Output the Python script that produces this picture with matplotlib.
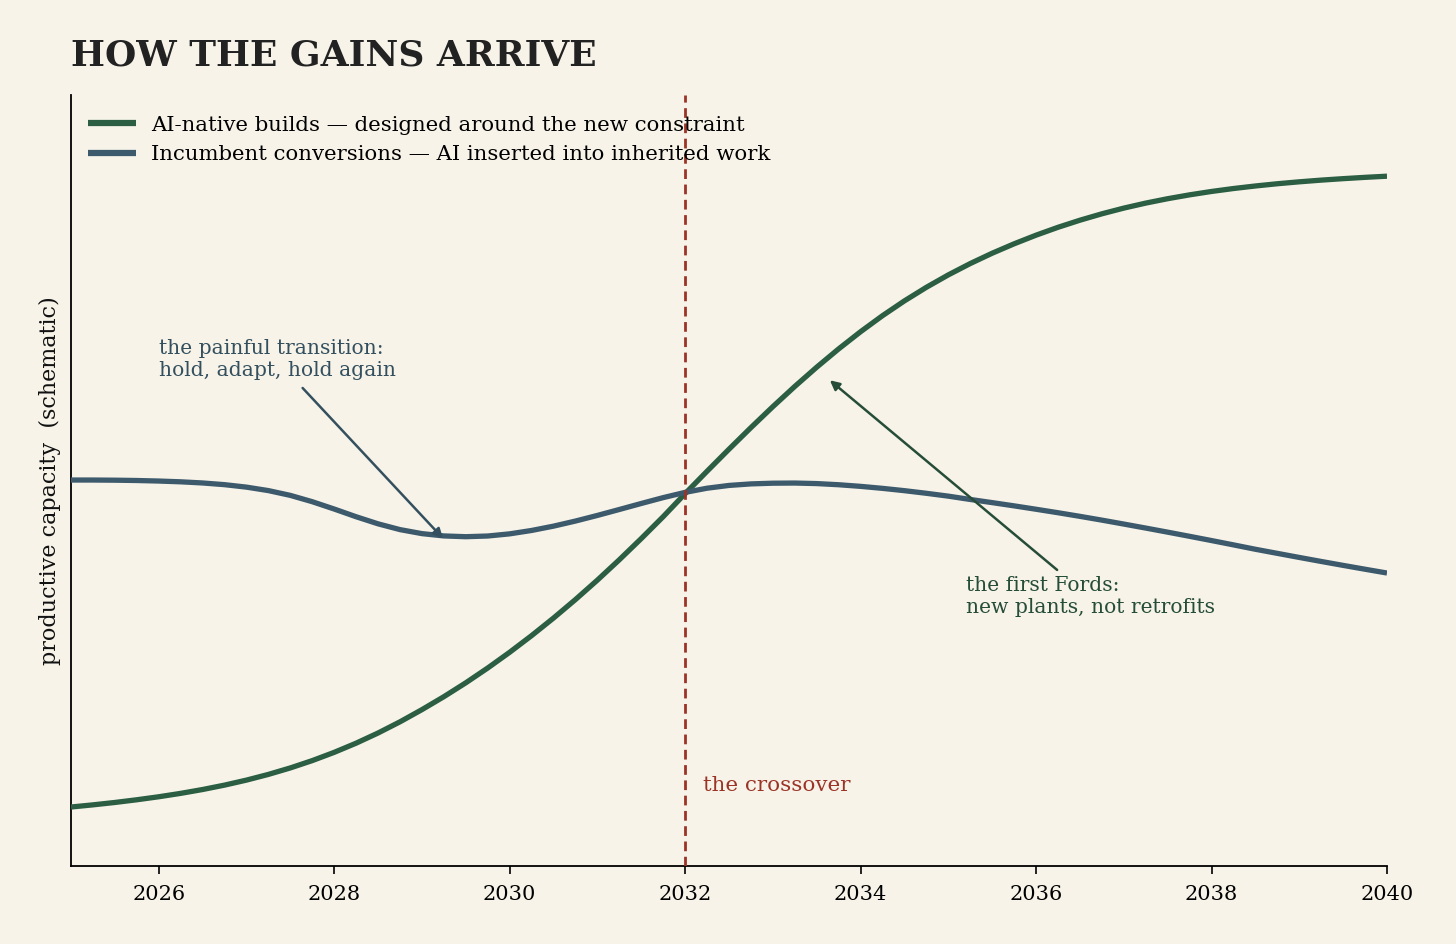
"""
How the gains arrive - schematic of AI-native builds vs incumbent conversions.
"""
import matplotlib
matplotlib.use("Agg")
import matplotlib.pyplot as plt

plt.rcParams["font.family"] = ["DejaVu Serif"]

BG = "#f7f3e9"
GREEN = "#2b5e43"
BLUE = "#3d5a6c"
RED = "#9b3426"

# quarter-year readings, 2025.00 .. 2040.00
years = [2025.0 + 0.25 * i for i in range(61)]

native = [7.65,
          7.93, 8.24, 8.59, 8.98,
          9.42, 9.92, 10.49, 11.14,
          11.88, 12.72, 13.67, 14.74,
          15.93, 17.25, 18.70, 20.28,
          21.96, 23.76, 25.68, 27.72,
          29.88, 32.16, 34.56, 37.08,
          39.72, 42.47, 45.31, 48.30,
          51.20, 54.06, 56.86, 59.58,
          62.20, 64.70, 67.07, 69.30,
          71.38, 73.30, 75.06, 76.67,
          78.14, 79.48, 80.70, 81.82,
          82.84, 83.76, 84.59, 85.33,
          85.98, 86.55, 87.05, 87.49,
          87.87, 88.20, 88.49, 88.74,
          88.96, 89.15, 89.32, 89.47]

incumbent = [50.06,
             50.06, 50.04, 50.00, 49.93,
             49.83, 49.68, 49.46, 49.14,
             48.69, 48.07, 47.25, 46.30,
             45.30, 44.38, 43.63, 43.11,
             42.81, 42.71, 42.80, 43.08,
             43.52, 44.08, 44.74, 45.47,
             46.24, 47.02, 47.78, 48.46,
             49.00, 49.36, 49.56, 49.65,
             49.67, 49.60, 49.45, 49.24,
             48.98, 48.68, 48.34, 47.97,
             47.54, 47.13, 46.71, 46.27,
             45.82, 45.35, 44.86, 44.35,
             43.83, 43.30, 42.76, 42.21,
             41.65, 41.08, 40.55, 40.02,
             39.50, 38.99, 38.49, 38.00]

xticks = [2026, 2028, 2030, 2032, 2034, 2036, 2038, 2040]
crossover_year = 2032


def main():
    fig = plt.figure(figsize=(14.56, 9.44), dpi=100, facecolor=BG)
    ax = fig.add_axes([0.04876, 0.08263, 0.90385, 0.81673])
    ax.set_facecolor(BG)

    ax.plot(years, native, color=GREEN, lw=3.8, solid_capstyle="butt",
            solid_joinstyle="round",
            label="AI-native builds — designed around the new constraint", zorder=3)
    ax.plot(years, incumbent, color=BLUE, lw=3.8, solid_capstyle="butt",
            solid_joinstyle="round",
            label="Incumbent conversions — AI inserted into inherited work", zorder=3)
    ax.axvline(crossover_year, color=RED, lw=2, ls=(0, (3.5, 2)), zorder=4)

    ax.set_xlim(2025, 2040)
    ax.set_ylim(0, 100)
    ax.set_xticks(xticks)
    ax.set_xticklabels([str(t) for t in xticks], fontsize=15)
    ax.tick_params(axis="x", length=6, width=1.2, pad=8)
    ax.set_yticks([])
    for s in ["top", "right"]:
        ax.spines[s].set_visible(False)
    for s in ["left", "bottom"]:
        ax.spines[s].set_linewidth(1.3)

    ax.text(2032.2, 10.5, "the crossover", color=RED, fontsize=15.4, va="center")

    ax.text(2026.0, 65.7, "the painful transition:\nhold, adapt, hold again",
            color="#34505f", fontsize=14.6, va="center", linespacing=1.15)
    ax.annotate("", xy=(2029.24, 42.5), xytext=(2027.64, 62.0),
                arrowprops=dict(arrowstyle="-|>", color="#34505f", lw=1.8,
                                mutation_scale=14, shrinkA=0, shrinkB=0))

    ax.text(2035.2, 34.95, "the first Fords:\nnew plants, not retrofits",
            color="#264d38", fontsize=14.6, va="center", linespacing=1.15)
    ax.annotate("", xy=(2033.65, 63.0), xytext=(2036.24, 38.4),
                arrowprops=dict(arrowstyle="-|>", color="#264d38", lw=1.8,
                                mutation_scale=14, shrinkA=0, shrinkB=0))

    leg = ax.legend(loc="upper left", bbox_to_anchor=(0.0, 0.995), frameon=False,
                    fontsize=15.3, handlelength=2.26, handletextpad=0.7,
                    labelspacing=0.5, borderaxespad=0.4)
    for line in leg.get_lines():
        line.set_linewidth(4.5)

    fig.text(0.0488, 0.9417, "HOW THE GAINS ARRIVE", fontsize=25.9, fontweight="bold",
             color="#222222", va="center", ha="left")
    fig.text(50 / 1456, 0.4905, "productive capacity  (schematic)", rotation=90,
             fontsize=16, va="center", ha="center", color="#111111")

    fig.savefig("out.png", dpi=100, facecolor=BG)
    plt.close(fig)


if __name__ == "__main__":
    main()
